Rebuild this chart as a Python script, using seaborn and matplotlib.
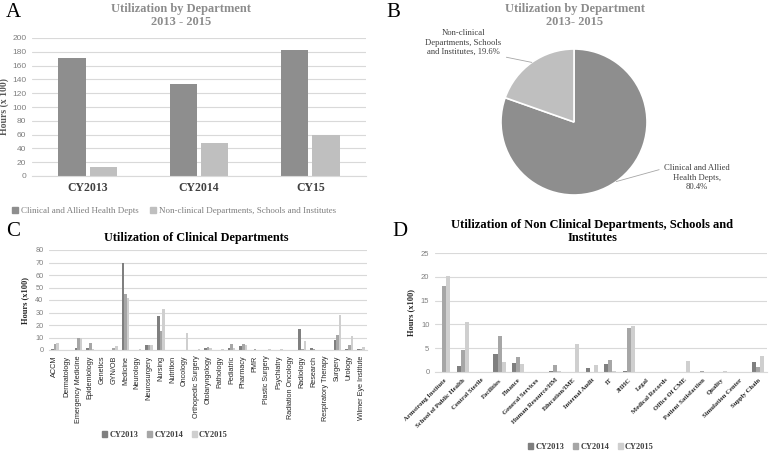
import matplotlib
matplotlib.use("Agg")
import matplotlib.pyplot as plt
from matplotlib.patches import Patch
import numpy as np
import pandas as pd
import seaborn as sns

# --- Panel A: utilization by department (hours x 100)
years_a = ["CY2013", "CY2014", "CY15"]
clinical_a = [171, 133, 182]
nonclinical_a = [13, 48, 59]
groups_a = ["Clinical and Allied Health Depts", "Non-clinical Departments, Schools and Institutes"]

# --- Panel B: share 2013-2015
pie_labels = ["Clinical and Allied\nHealth Depts,\n80.4%",
              "Non-clinical\nDepartments, Schools\nand Institutes, 19.6%"]
pie_shares = [80.4, 19.6]

# --- Panel C: clinical departments (hours x100)
clin_depts = ["ACCM", "Dermatology", "Emergency Medicine", "Epidemiology", "Genetics",
              "GYN/OB", "Medicine", "Neurology", "Neurosurgery", "Nursing", "Nutrition",
              "Oncology", "Orthopedic Surgery", "Otolaryngology", "Pathology", "Pediatric",
              "Pharmacy", "PMR", "Plastic Surgery", "Psychiatry", "Radiation Oncology",
              "Radiology", "Research", "Respiratory Therapy", "Surgery", "Urology",
              "Wilmer Eye Institute"]
clin_2013 = [0.5, 0, 2, 1.5, 0, 0, 70, 0, 4, 27.5, 0, 0, 0, 1.5, 0, 1.5, 3, 0, 0, 0, 0,
             16.5, 1.5, 0, 8, 1, 0.5]
clin_2014 = [4.5, 0, 9.5, 5.5, 0, 1.5, 45, 0, 4, 15.5, 0, 0, 0, 2.5, 0, 4.5, 4.5, 0.5, 0,
             0, 0, 0.5, 0.5, 0, 12, 4, 1]
clin_2015 = [5.5, 0, 9.5, 0.5, 0, 3, 42, 1, 4, 33, 0, 14, 0.5, 2, 0.5, 1.5, 4, 0, 0.5,
             0.5, 0, 7.5, 0, 0, 28, 11, 2.5]

# --- Panel D: non clinical departments, schools and institutes (hours x100)
non_depts = ["Armstrong Institute", "School of Public Health", "Central Sterile", "Facilities",
             "Finance", "General Services", "Human Resource/HM", "Education/IME",
             "Internal Audit", "IT", "JHHC", "Legal", "Medical Records", "Office Of CME",
             "Patient Satisfaction", "Quality", "Simulation Center", "Supply Chain"]
non_2013 = [0, 1.3, 0, 3.7, 1.9, 0, 0.2, 0, 0.9, 1.7, 0.2, 0, 0, 0, 0, 0, 0, 2.0]
non_2014 = [18, 4.7, 0, 7.5, 3.2, 0, 1.4, 0, 0, 2.5, 9.3, 0, 0, 0, 0.2, 0, 0, 1.0]
non_2015 = [20.2, 10.6, 0, 2.2, 1.7, 0, 0.2, 5.9, 1.5, 0.2, 9.6, 0, 0, 2.4, 0.1, 0.2, 0, 3.4]

years = ["CY2013", "CY2014", "CY2015"]
year_cols = ["#7f7f7f", "#a6a6a6", "#cfcfcf"]
a_cols = ["#8e8e8e", "#bfbfbf"]
grid_col = "#d9d9d9"
SERIF = "Liberation Serif"
SANS = "Liberation Sans"

sns.set_style("white")
plt.rcParams["font.family"] = [SANS, "DejaVu Sans"]

fig = plt.figure(figsize=(7.77, 4.51), dpi=100)
W, H = 777, 451


def px_axes(left, top, right, bottom):
    return fig.add_axes([left / W, 1 - bottom / H, (right - left) / W, (bottom - top) / H])


def style_bars(ax, tick_size):
    sns.despine(ax=ax, left=True)
    ax.spines["bottom"].set_color(grid_col)
    ax.yaxis.grid(True, color=grid_col, lw=0.8)
    ax.set_axisbelow(True)
    ax.tick_params(length=0, pad=4)
    for t in ax.get_yticklabels():
        t.set_fontsize(tick_size)
        t.set_color("#7f7f7f")
        t.set_family(SANS)
    ax.set_xlabel("")


# ---------- A
df_a = pd.DataFrame({"year": years_a, groups_a[0]: clinical_a, groups_a[1]: nonclinical_a})
df_a = df_a.melt(id_vars="year", var_name="group", value_name="hours")
ax_a = px_axes(32, 38, 366, 176)
sns.barplot(data=df_a, x="year", y="hours", hue="group", palette=a_cols, width=0.56,
            gap=0.12, errorbar=None, legend=False, edgecolor="none", linewidth=0, ax=ax_a)
ax_a.set_ylim(0, 200)
ax_a.set_yticks(range(0, 201, 20))
style_bars(ax_a, 6)
ax_a.set_ylabel("Hours (x 100)", family=SERIF, fontweight="bold", fontsize=7, color="#595959")
ax_a.yaxis.set_label_coords(-0.068, 0.5)
for t in ax_a.get_xticklabels():
    t.set_family(SERIF)
    t.set_fontweight("bold")
    t.set_fontsize(8.5)
    t.set_color("#404040")
fig.text(181 / W, 1 - 3 / H, "Utilization by Department\n2013 - 2015", ha="center", va="top",
         family=SERIF, fontweight="bold", fontsize=8.9, color="#8c8c8c", linespacing=1.15)
fig.legend([Patch(color=c) for c in a_cols], groups_a, loc="center left",
           bbox_to_anchor=(4 / W, 1 - 211 / H), ncol=2, frameon=False,
           prop={"family": SERIF, "size": 6.5}, labelcolor="#7f7f7f",
           handlelength=0.7, handleheight=0.7, handletextpad=0.3, columnspacing=1.2)

# ---------- B
ax_b = px_axes(501, 49, 647, 195)
wedges, _ = ax_b.pie(pie_shares, colors=a_cols, startangle=90, counterclock=False,
                     wedgeprops=dict(edgecolor="white", linewidth=1.2))
ax_b.set_xlim(-1, 1)
ax_b.set_ylim(-1, 1)
label_pos = [(1.68, -0.58), (-0.99, 0.90)]
label_align = [("center", "top", (0, 0.85)), ("right", "bottom", (1, 0))]
for w, lab, pos, (ha, va, rp) in zip(wedges, pie_labels, label_pos, label_align):
    ang = np.deg2rad((w.theta1 + w.theta2) / 2)
    ax_b.annotate(lab, xy=(np.cos(ang), np.sin(ang)), xytext=pos, ha=ha, va=va,
                  multialignment="center", family=SERIF, fontsize=6.2, color="#404040",
                  annotation_clip=False, linespacing=1.25,
                  arrowprops=dict(arrowstyle="-", color="#a6a6a6", lw=0.6,
                                  shrinkA=1, shrinkB=0, relpos=rp))
fig.text(575 / W, 1 - 3 / H, "Utilization by Department\n2013- 2015", ha="center", va="top",
         family=SERIF, fontweight="bold", fontsize=8.9, color="#8c8c8c", linespacing=1.15)

# ---------- C
df_c = pd.DataFrame({"dept": clin_depts, years[0]: clin_2013, years[1]: clin_2014,
                     years[2]: clin_2015}).melt(id_vars="dept", var_name="year", value_name="hours")
ax_c = px_axes(49, 250, 367, 350)
sns.barplot(data=df_c, x="dept", y="hours", hue="year", order=clin_depts, palette=year_cols,
            width=0.66, errorbar=None, legend=False, edgecolor="none", linewidth=0, ax=ax_c)
ax_c.set_ylim(0, 80)
ax_c.set_yticks(range(0, 81, 10))
style_bars(ax_c, 5.3)
ax_c.set_ylabel("Hours (x100)", family=SERIF, fontweight="bold", fontsize=6, color="#262626")
ax_c.set_xticks(range(len(clin_depts)))
ax_c.set_xticklabels(clin_depts, rotation=90, family=SANS, fontsize=5.2, color="#262626")
fig.text(196 / W, 1 - 238 / H, "Utilization of Clinical Departments", ha="center", va="center",
         family=SERIF, fontweight="bold", fontsize=8.8, color="black")
fig.legend([Patch(color=c) for c in year_cols], years, loc="center",
           bbox_to_anchor=(165 / W, 1 - 435 / H), ncol=3, frameon=False,
           prop={"family": SERIF, "size": 6, "weight": "bold"}, labelcolor="#404040",
           handlelength=0.6, handleheight=0.6, handletextpad=0.3, columnspacing=1.0)

# ---------- D
df_d = pd.DataFrame({"dept": non_depts, years[0]: non_2013, years[1]: non_2014,
                     years[2]: non_2015}).melt(id_vars="dept", var_name="year", value_name="hours")
ax_d = px_axes(435, 253, 767, 372)
sns.barplot(data=df_d, x="dept", y="hours", hue="year", order=non_depts, palette=year_cols,
            width=0.66, errorbar=None, legend=False, edgecolor="none", linewidth=0, ax=ax_d)
ax_d.set_ylim(0, 25)
ax_d.set_yticks(range(0, 26, 5))
style_bars(ax_d, 5.5)
ax_d.set_ylabel("Hours (x100)", family=SERIF, fontweight="bold", fontsize=6, color="#262626")
ax_d.set_xticks(range(len(non_depts)))
ax_d.set_xticklabels(non_depts, rotation=45, ha="right", rotation_mode="anchor",
                     family=SERIF, fontweight="bold", fontsize=4.8, color="#262626")
fig.text(592 / W, 1 - 219 / H, "Utilization of Non Clinical Departments, Schools and\nInstitutes",
         ha="center", va="top", family=SERIF, fontweight="bold", fontsize=9, color="black",
         linespacing=1.15)
fig.legend([Patch(color=c) for c in year_cols], years, loc="center",
           bbox_to_anchor=(591 / W, 1 - 447 / H), ncol=3, frameon=False,
           prop={"family": SERIF, "size": 6, "weight": "bold"}, labelcolor="#404040",
           handlelength=0.6, handleheight=0.6, handletextpad=0.3, columnspacing=1.0)

# panel letters
for x, y, s in [(6, 3, "A"), (386, 3, "B"), (6, 222, "C"), (392, 222, "D")]:
    fig.text(x / W, 1 - y / H, s, ha="left", va="top", family=SERIF, fontsize=15, color="black")

fig.savefig("out.png", dpi=100)
